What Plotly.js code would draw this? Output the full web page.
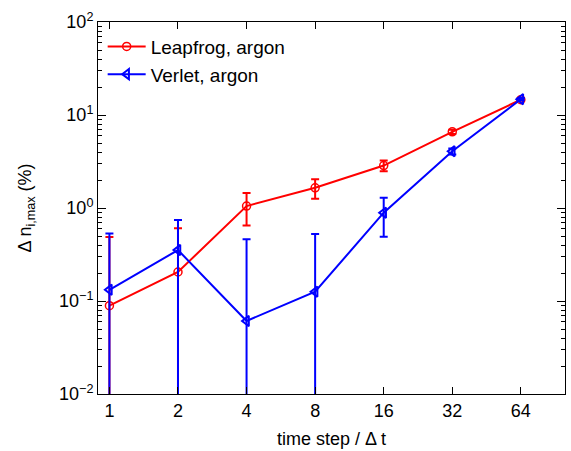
<!DOCTYPE html>
<html>
<head>
<meta charset="utf-8">
<script src="https://cdn.plot.ly/plotly-3.0.1.min.js"></script>
<style>html,body{margin:0;padding:0;background:#fff;}#chart{width:571px;height:451px;}</style>
</head>
<body>
<div id="chart"></div>
<script>
// time step / Δt
const timeSteps = [1, 2, 4, 8, 16, 32, 64];
const xTickLabels = ['1', '2', '4', '8', '16', '32', '64'];

// Leapfrog, argon
const leapfrogY = [0.089, 0.205, 1.05, 1.65, 2.86, 6.6, 14.6];
const leapfrogErr = [0.40, 0.40, 0.40, 0.39, 0.38, 0.35, 0.40];

// Verlet, argon
const verletY = [0.132, 0.353, 0.061, 0.126, 0.89, 4.07, 14.8];
const verletErr = [0.40, 0.39, 0.40, 0.40, 0.40, 0.30, 0.40];

const yTickVals = [0.01, 0.1, 1, 10, 100];
const yTickLabels = ['10<sup>\u22122</sup>', '10<sup>\u22121</sup>', '10<sup>0</sup>', '10<sup>1</sup>', '10<sup>2</sup>'];
const yMinorVals = [];
for (const d of [0.01, 0.1, 1, 10]) for (const m of [2,3,4,5,6,7,8,9]) yMinorVals.push(+(m*d).toPrecision(3));

const FONT = 'Liberation Sans, Arial, Helvetica, sans-serif';

const traces = [
  {
    x: timeSteps, y: leapfrogY, name: 'Leapfrog, argon', type: 'scatter', mode: 'lines+markers',
    line: {color: '#ff0000', width: 2},
    marker: {symbol: 'circle-open', size: 8, color: '#ff0000', line: {width: 1.5, color: '#ff0000'}},
    error_y: {type: 'data', array: leapfrogErr, visible: true, color: '#ff0000', thickness: 2, width: 4}
  },
  {
    x: timeSteps, y: verletY, name: 'Verlet, argon', type: 'scatter', mode: 'lines+markers',
    line: {color: '#0000ff', width: 2},
    marker: {symbol: 'triangle-left-open', size: 9, color: '#0000ff', line: {width: 2, color: '#0000ff'}},
    error_y: {type: 'data', array: verletErr, visible: true, color: '#0000ff', thickness: 2, width: 4}
  }
];

const layout = {
  width: 571, height: 451,
  margin: {l: 98, r: 6, t: 21.5, b: 56.5},
  paper_bgcolor: '#fff', plot_bgcolor: '#fff',
  font: {family: FONT, size: 18, color: '#000'},
  showlegend: true,
  legend: {x: 0.01, y: 0.985, xanchor: 'left', yanchor: 'top', bgcolor: 'rgba(255,255,255,0)',
           itemwidth: 38,
           font: {family: FONT, size: 19, color: '#000'}, borderwidth: 0},
  xaxis: {
    type: 'log', range: [Math.log10(0.891), 2.0],
    tickmode: 'array', tickvals: timeSteps, ticktext: xTickLabels,
    ticks: 'inside', ticklen: 7, tickwidth: 1, tickcolor: '#000',
    showline: true, linecolor: '#000', linewidth: 1, mirror: 'allticks',
    showgrid: false, zeroline: false,
    title: {text: 'time step / \u0394 t', font: {family: FONT, size: 18}, standoff: 12}
  },
  yaxis: {
    type: 'log', range: [-2, 2],
    tickmode: 'array', tickvals: yTickVals, ticktext: yTickLabels,
    ticks: 'inside', ticklen: 8, tickwidth: 1, tickcolor: '#000',
    minor: {tickmode: 'array', tickvals: yMinorVals, ticks: 'inside', ticklen: 4, tickwidth: 1, tickcolor: '#000', showgrid: false},
    showline: true, linecolor: '#000', linewidth: 1, mirror: 'allticks',
    showgrid: false, zeroline: false,
    title: {text: '\u0394 n<sub>i,max</sub> (%)', font: {family: FONT, size: 18}, standoff: 22}
  }
};

Plotly.newPlot('chart', traces, layout, {displayModeBar: false, staticPlot: true});
</script>
</body>
</html>
